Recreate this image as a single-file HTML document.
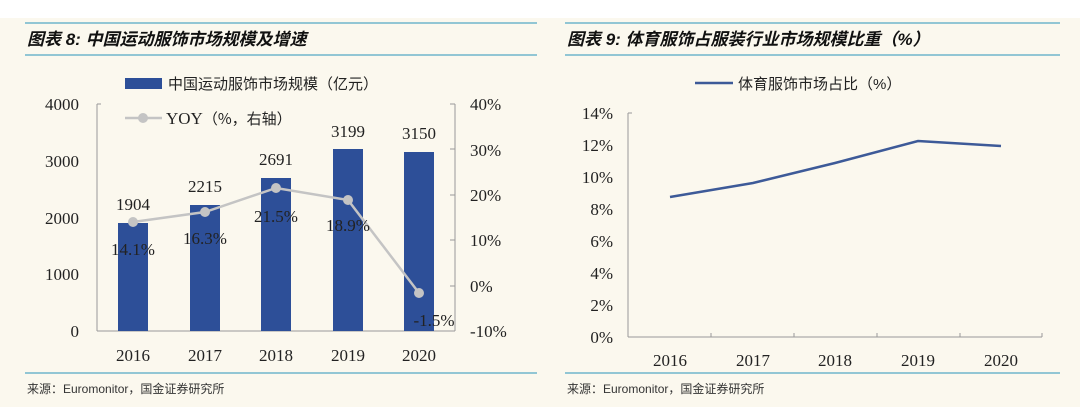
<!DOCTYPE html>
<html><head><meta charset="utf-8"><style>
body{margin:0;background:#fbf8ee;}
svg{display:block}
</style></head><body>
<svg width="1080" height="407" xmlns="http://www.w3.org/2000/svg" font-family="'Liberation Serif','Noto Serif CJK SC',serif">
<rect width="1080" height="407" fill="#fbf8ee"/>
<rect width="1080" height="18" fill="#ffffff"/>
<g stroke="#6fb6cc" stroke-width="1.5">
<line x1="25" y1="23" x2="537" y2="23"/><line x1="25" y1="55" x2="537" y2="55"/><line x1="25" y1="373" x2="537" y2="373"/>
<line x1="565" y1="23" x2="1060" y2="23"/><line x1="565" y1="55" x2="1060" y2="55"/><line x1="565" y1="373" x2="1060" y2="373"/>
</g>
<g font-family="'Liberation Sans','Noto Sans CJK SC',sans-serif" font-weight="bold" font-style="italic" font-size="17" fill="#111">
<text x="27" y="45">图表 8:  中国运动服饰市场规模及增速</text>
<text x="567" y="45">图表 9:  体育服饰占服装行业市场规模比重（%）</text>
</g>
<g font-family="'Liberation Sans','Noto Sans CJK SC',sans-serif" font-size="12" fill="#333">
<text x="27" y="393">来源：Euromonitor，国金证券研究所</text>
<text x="567" y="393">来源：Euromonitor，国金证券研究所</text>
</g>
<!-- left chart -->
<g stroke="#999" stroke-width="1" fill="none">
<line x1="97" y1="104" x2="97" y2="331"/><line x1="97" y1="331" x2="455" y2="331"/><line x1="455" y1="104" x2="455" y2="331"/>
<line x1="455" y1="104" x2="450" y2="104"/><line x1="455" y1="149" x2="450" y2="149"/><line x1="455" y1="195" x2="450" y2="195"/><line x1="455" y1="240" x2="450" y2="240"/><line x1="455" y1="286" x2="450" y2="286"/>
<line x1="97" y1="104" x2="101" y2="104"/>
</g>
<g fill="#2d4f98">
<rect x="118" y="223" width="30" height="108"/>
<rect x="190" y="205" width="30" height="126"/>
<rect x="261" y="178" width="30" height="153"/>
<rect x="333" y="149" width="30" height="182"/>
<rect x="404" y="152" width="30" height="179"/>
<rect x="125" y="78" width="37" height="11"/>
</g>
<polyline points="133,222 205,212 276,188 348,200 419,293" fill="none" stroke="#c4c4c4" stroke-width="2.5"/>
<g fill="#c4c4c4"><circle cx="133" cy="222" r="5"/><circle cx="205" cy="212" r="5"/><circle cx="276" cy="188" r="5"/><circle cx="348" cy="200" r="5"/><circle cx="419" cy="293" r="5"/>
<line x1="125" y1="118" x2="162" y2="118" stroke="#c4c4c4" stroke-width="2.5"/><circle cx="143" cy="118" r="5"/></g>
<g font-size="17" fill="#222">
<text x="168" y="89" font-family="'Liberation Sans','Noto Sans CJK SC',sans-serif" font-size="15">中国运动服饰市场规模（亿元）</text>
<text x="166" y="124">YOY<tspan font-family="'Noto Sans CJK SC',sans-serif" font-size="15">（%，右轴）</tspan></text>
<g text-anchor="end"><text x="79" y="110">4000</text><text x="79" y="167">3000</text><text x="79" y="224">2000</text><text x="79" y="280">1000</text><text x="79" y="337">0</text></g>
<g><text x="470" y="110">40%</text><text x="470" y="156">30%</text><text x="470" y="201">20%</text><text x="470" y="246">10%</text><text x="470" y="292">0%</text><text x="470" y="337">-10%</text></g>
<g text-anchor="middle">
<text x="133" y="361">2016</text><text x="205" y="361">2017</text><text x="276" y="361">2018</text><text x="348" y="361">2019</text><text x="419" y="361">2020</text>
<text x="133" y="210">1904</text><text x="205" y="192">2215</text><text x="276" y="165">2691</text><text x="348" y="137">3199</text><text x="419" y="139">3150</text>
<text x="133" y="255">14.1%</text><text x="205" y="244">16.3%</text><text x="276" y="222">21.5%</text><text x="348" y="231">18.9%</text><text x="434" y="326">-1.5%</text>
</g>
</g>
<!-- right chart -->
<g stroke="#999" stroke-width="1" fill="none">
<line x1="628" y1="113" x2="628" y2="337"/><line x1="628" y1="337" x2="1042" y2="337"/>
<line x1="628" y1="113" x2="632" y2="113"/>
<line x1="711" y1="337" x2="711" y2="333"/><line x1="794" y1="337" x2="794" y2="333"/><line x1="877" y1="337" x2="877" y2="333"/><line x1="960" y1="337" x2="960" y2="333"/><line x1="1042" y1="337" x2="1042" y2="333"/>
</g>
<polyline points="670,197 753,183 835,163 918,141 1001,146" fill="none" stroke="#3d5a98" stroke-width="2.5"/>
<line x1="695" y1="83" x2="733" y2="83" stroke="#3d5a98" stroke-width="2.5"/>
<g font-size="17" fill="#222">
<text x="738" y="89" font-family="'Liberation Sans','Noto Sans CJK SC',sans-serif" font-size="15">体育服饰市场占比（%）</text>
<g text-anchor="end"><text x="613" y="119">14%</text><text x="613" y="151">12%</text><text x="613" y="183">10%</text><text x="613" y="215">8%</text><text x="613" y="247">6%</text><text x="613" y="279">4%</text><text x="613" y="311">2%</text><text x="613" y="343">0%</text></g>
<g text-anchor="middle"><text x="670" y="366">2016</text><text x="753" y="366">2017</text><text x="835" y="366">2018</text><text x="918" y="366">2019</text><text x="1001" y="366">2020</text></g>
</g>
</svg>
</body></html>
